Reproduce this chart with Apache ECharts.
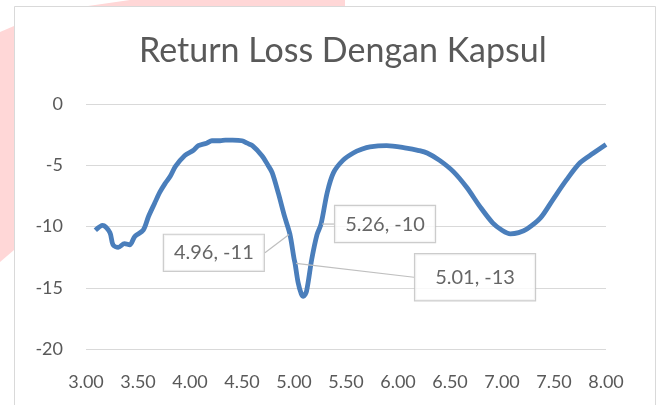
<!DOCTYPE html>
<html>
<head>
<meta charset="utf-8">
<script src="https://cdn.jsdelivr.net/npm/echarts@6/dist/echarts.min.js"></script>
<style>
  html, body { margin: 0; padding: 0; background: #fff; }
  #chart { width: 658px; height: 405px; }
</style>
</head>
<body>
<div id="chart"></div>
<script>
// frequency (GHz) and return loss (dB)
const freq = [3.09, 3.16, 3.23, 3.26, 3.31, 3.37, 3.42, 3.47, 3.55, 3.60,
  3.66, 3.71, 3.76, 3.81, 3.86, 3.95, 4.03, 4.08, 4.16, 4.21,
  4.29, 4.34, 4.41, 4.50, 4.55, 4.60, 4.69, 4.75, 4.79, 4.85,
  4.91, 4.96, 5.00, 5.01, 5.04, 5.07, 5.09, 5.12, 5.17, 5.22,
  5.26, 5.32, 5.38, 5.47, 5.57, 5.65, 5.73, 5.89, 6.08, 6.20,
  6.28, 6.40, 6.53, 6.66, 6.79, 6.91, 7.00, 7.08, 7.16, 7.24,
  7.37, 7.49, 7.62, 7.75, 7.88, 8.00]
const returnLoss = [-10.3, -9.9, -10.5, -11.5, -11.7, -11.4, -11.5, -10.8, -10.3, -9.2,
  -8.1, -7.2, -6.5, -5.9, -5.1, -4.2, -3.8, -3.4, -3.2, -3.0,
  -3.0, -2.95, -2.95, -3.0, -3.2, -3.4, -4.2, -5.0, -5.6, -7.3,
  -9.2, -10.6, -12.6, -13.0, -14.6, -15.5, -15.7, -15.3, -12.7, -10.7,
  -9.8, -7.2, -5.6, -4.6, -4.0, -3.7, -3.5, -3.4, -3.6, -3.8,
  -4.0, -4.6, -5.5, -6.8, -8.4, -9.7, -10.3, -10.6, -10.5, -10.2,
  -9.3, -7.8, -6.2, -4.8, -4.0, -3.3]

// annotated points (Excel data labels)
const noteX = [4.96, 5.26, 5.01]
const noteY = [-10.6, -9.8, -13.0]
// label offsets from the point, and box padding
const noteOffset = [[-76, 19], [64, 0], [180, 14]]
const notePadding = [[8, 10], [8, 10], [13, 20]]

const yTicks = [0, -5, -10, -15, -20]

const chart = echarts.init(document.getElementById('chart'))

const option = {
  backgroundColor: '#fff',
  animation: false,
  textStyle: { fontFamily: 'Lato' },
  title: {
    text: 'Return Loss Dengan Kapsul',
    left: 134,
    top: 29,
    textStyle: { fontFamily: 'Lato', fontSize: 34, fontWeight: 'normal', color: '#595959' }
  },
  graphic: [
    // watermark remains outside the chart frame
    { type: 'polygon', shape: { points: [[0, 32], [14, 26], [14, 250], [0, 262]] }, style: { fill: '#ffd7d7' } },
    { type: 'polygon', shape: { points: [[88, 6], [130, 0], [345, 0], [345, 6]] }, style: { fill: '#ffd7d7' } },
    // chart frame
    { type: 'rect', shape: { x: 14.5, y: 6.5, width: 641, height: 430 }, style: { fill: 'none', stroke: '#d9d9d9', lineWidth: 1 } }
  ],
  grid: { left: 86, right: 52, top: 104, bottom: 56 },
  xAxis: {
    type: 'value',
    min: 3,
    max: 8,
    interval: 0.5,
    axisLine: { show: false },
    axisTick: { show: false },
    splitLine: { show: false },
    axisLabel: {
      color: '#595959',
      fontSize: 18,
      margin: 24,
      formatter: v => v.toFixed(2)
    }
  },
  yAxis: {
    type: 'value',
    min: yTicks[yTicks.length - 1],
    max: yTicks[0],
    interval: 5,
    axisLine: { show: false },
    axisTick: { show: false },
    splitLine: { lineStyle: { color: '#d9d9d9', width: 1 } },
    axisLabel: { color: '#595959', fontSize: 18, margin: 23 }
  },
  series: [
    {
      name: 'Return Loss',
      type: 'line',
      data: freq.map((f, i) => [f, returnLoss[i]]),
      smooth: 0.3,
      showSymbol: false,
      lineStyle: { color: '#4a7ebb', width: 4.8 },
      z: 3
    },
    {
      name: 'Label',
      type: 'scatter',
      symbolSize: 2,
      itemStyle: { color: '#4a7ebb' },
      z: 4,
      data: noteX.map((x, i) => ({
        value: [x, noteY[i]],
        label: { padding: notePadding[i] }
      })),
      label: {
        show: true,
        position: 'inside',
        formatter: p => p.value[0].toFixed(2) + ', ' + Math.round(p.value[1]),
        fontSize: 20,
        color: '#404040',
        backgroundColor: '#fff',
        borderColor: '#bfbfbf',
        borderWidth: 1.2
      },
      labelLine: { show: true, lineStyle: { color: '#bfbfbf', width: 1.2 } },
      labelLayout: p => ({ dx: noteOffset[p.dataIndex][0], dy: noteOffset[p.dataIndex][1] })
    }
  ]
}

chart.setOption(option)
</script>
</body>
</html>
